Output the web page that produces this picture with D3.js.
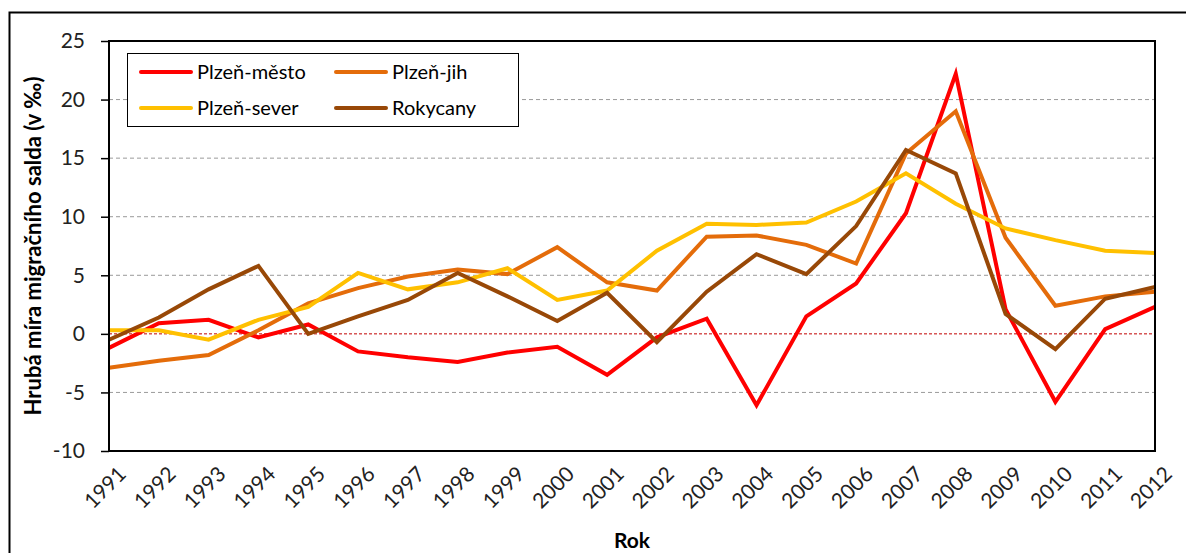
<!DOCTYPE html>
<html>
<head>
<meta charset="utf-8">
<script src="https://cdn.jsdelivr.net/npm/d3@7"></script>
<style>
  body { margin: 0; background: #fff; }
  svg { font-family: Lato, "Open Sans", sans-serif; }
</style>
</head>
<body>
<div id="chart"></div>
<script>
// years on the x axis
const years = [1991, 1992, 1993, 1994, 1995, 1996, 1997, 1998, 1999, 2000, 2001,
               2002, 2003, 2004, 2005, 2006, 2007, 2008, 2009, 2010, 2011, 2012];

// values (per mille)
const plzenMesto = [-1.2, 0.9, 1.2, -0.3, 0.8, -1.5, -2.0, -2.4, -1.6, -1.1, -3.5,
                    -0.3, 1.3, -6.1, 1.5, 4.3, 10.3, 22.2, 2.1, -5.8, 0.4, 2.3];
const plzenJih = [-2.9, -2.3, -1.8, 0.3, 2.6, 3.9, 4.9, 5.5, 5.1, 7.4, 4.4,
                  3.7, 8.3, 8.4, 7.6, 6.0, 15.4, 19.0, 8.2, 2.4, 3.2, 3.6];
const plzenSever = [0.3, 0.3, -0.5, 1.2, 2.3, 5.2, 3.8, 4.4, 5.6, 2.9, 3.7,
                    7.1, 9.4, 9.3, 9.5, 11.3, 13.7, 11.1, 9.0, 8.0, 7.1, 6.9];
const rokycany = [-0.5, 1.4, 3.8, 5.8, 0.0, 1.5, 2.9, 5.2, 3.2, 1.1, 3.5,
                  -0.7, 3.6, 6.8, 5.1, 9.2, 15.7, 13.7, 1.7, -1.3, 3.0, 4.0];

const seriesNames = ["Plzeň-město", "Plzeň-jih", "Plzeň-sever", "Rokycany"];
const seriesColors = ["#ff0000", "#e46c0a", "#ffc000", "#984807"];
const yTicks = [-10, -5, 0, 5, 10, 15, 20, 25];

const series = [plzenMesto, plzenJih, plzenSever, rokycany].map((vals, i) => ({
  name: seriesNames[i], color: seriesColors[i], values: vals
}));

const width = 1186, height = 553;
const margin = { left: 109, right: 31, top: 41, bottom: 102 };

const svg = d3.select("#chart").append("svg")
  .attr("width", width)
  .attr("height", height);

// outer chart frame
svg.append("rect")
  .attr("x", 9.5).attr("y", 12.5)
  .attr("width", 1200).attr("height", 600)
  .attr("fill", "none").attr("stroke", "#000").attr("stroke-width", 2);

const x = d3.scaleLinear()
  .domain([years[0], years[years.length - 1]])
  .range([margin.left, width - margin.right]);

const y = d3.scaleLinear()
  .domain([-10, 25])
  .range([height - margin.bottom, margin.top]);

// gridlines
svg.append("g")
  .selectAll("line")
  .data(yTicks.filter(d => d !== 0 && d !== -10 && d !== 25))
  .enter().append("line")
    .attr("x1", margin.left).attr("x2", width - margin.right)
    .attr("y1", d => y(d)).attr("y2", d => y(d))
    .attr("stroke", "#9a9a9a")
    .attr("stroke-width", 1)
    .attr("stroke-dasharray", "4,3");

// zero line
svg.append("line")
  .attr("x1", margin.left).attr("x2", width - margin.right)
  .attr("y1", y(0)).attr("y2", y(0))
  .attr("stroke", "#c00000")
  .attr("stroke-width", 1)
  .attr("stroke-dasharray", "3,2");

// y axis
const yAxis = svg.append("g")
  .attr("transform", `translate(${margin.left},0)`)
  .call(d3.axisLeft(y).tickValues(yTicks).tickFormat(d => String(d)).tickSize(8).tickPadding(16));
yAxis.select(".domain").remove();
yAxis.selectAll("line").attr("stroke", "#000").attr("stroke-width", 1.5);
yAxis.selectAll("text")
  .attr("font-size", 21)
  .attr("fill", "#222")
  .attr("font-family", "Lato, sans-serif");

// x labels (rotated)
svg.append("g")
  .selectAll("text")
  .data(years)
  .enter().append("text")
    .attr("transform", d => `translate(${x(d) + 8},${y(-10) + 14}) rotate(-45)`)
    .attr("text-anchor", "end")
    .attr("dy", "0.7em")
    .attr("font-size", 21)
    .attr("fill", "#222")
    .text(d => d);

// lines
const line = d3.line()
  .x((d, i) => x(years[i]))
  .y(d => y(d));

svg.append("g")
  .selectAll("path")
  .data(series)
  .enter().append("path")
    .attr("d", d => line(d.values))
    .attr("fill", "none")
    .attr("stroke", d => d.color)
    .attr("stroke-width", 4)
    .attr("stroke-linejoin", "miter");

// plot frame
svg.append("rect")
  .attr("x", margin.left).attr("y", margin.top)
  .attr("width", width - margin.left - margin.right)
  .attr("height", height - margin.top - margin.bottom)
  .attr("fill", "none").attr("stroke", "#000").attr("stroke-width", 2);

// legend
const legend = svg.append("g");
legend.append("rect")
  .attr("x", 127.5).attr("y", 53.5)
  .attr("width", 391).attr("height", 73)
  .attr("fill", "#fff").attr("stroke", "#000").attr("stroke-width", 1);

const legItems = legend.selectAll("g")
  .data(series)
  .enter().append("g")
    .attr("transform", (d, i) => `translate(${i % 2 === 0 ? 141 : 336},${i < 2 ? 72 : 108})`);
legItems.append("line")
  .attr("x1", 0).attr("x2", 50)
  .attr("stroke", d => d.color)
  .attr("stroke-width", 4)
  .attr("stroke-linecap", "round");
legItems.append("text")
  .attr("x", 56).attr("dy", "0.35em")
  .attr("font-size", 20)
  .attr("fill", "#000")
  .text(d => d.name);

// axis titles
svg.append("text")
  .attr("transform", `translate(41,${(margin.top + height - margin.bottom) / 2}) rotate(-90)`)
  .attr("text-anchor", "middle")
  .attr("font-size", 22)
  .attr("font-weight", "bold")
  .text("Hrubá míra migračního salda (v ‰)");

svg.append("text")
  .attr("x", (margin.left + width - margin.right) / 2)
  .attr("y", 548)
  .attr("text-anchor", "middle")
  .attr("font-size", 21)
  .attr("font-weight", "bold")
  .text("Rok");
</script>
</body>
</html>
